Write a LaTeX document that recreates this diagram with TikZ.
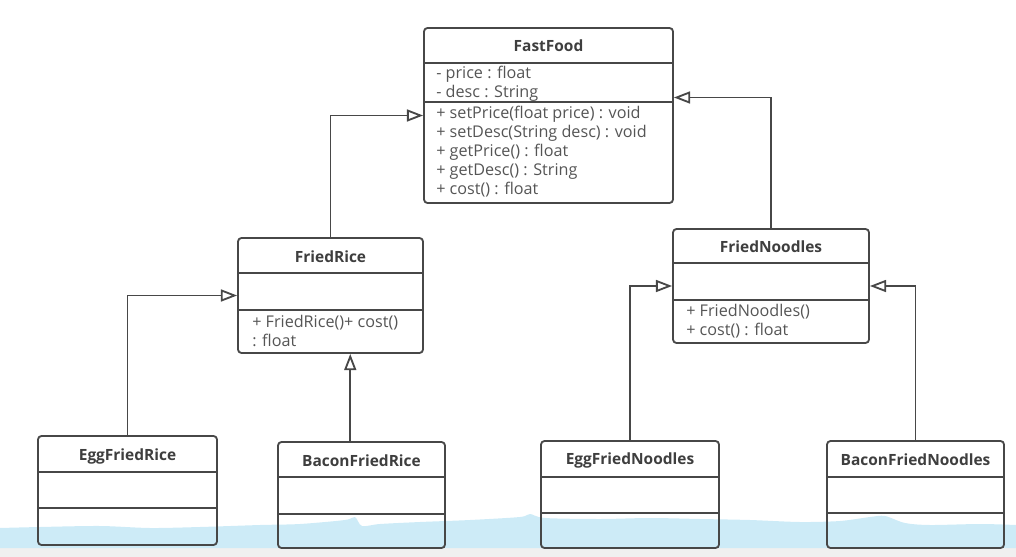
\documentclass[tikz,border=0pt]{standalone}
\usepackage{fontspec}
\setmainfont{Open Sans}
\usetikzlibrary{arrows.meta}
\usetikzlibrary{fit}
\definecolor{linegray}{HTML}{474747}
\definecolor{textgray}{HTML}{555555}
\definecolor{titlegray}{HTML}{3E3E3E}
\definecolor{waterblue}{HTML}{CDEBF7}
\definecolor{stripgray}{HTML}{F0F0F0}

\begin{document}
\begin{tikzpicture}[x=0.025cm,y=-0.025cm,>={Triangle[open,length=11.5pt,width=8.5pt]},
    class box/.style={draw=linegray,line width=1.3pt,rounded corners=2.5pt,inner sep=0pt},
    sep line/.style={draw=linegray,line width=1.3pt},
    class name/.style={font=\fontsize{11}{13}\selectfont\bfseries,text=titlegray,inner sep=0pt},
    members/.style={font=\fontsize{11.5}{13.5}\selectfont,text=textgray,align=left,anchor=west,inner sep=0pt},
    inherit/.style={->,draw=linegray,line width=1.3pt}]
  \useasboundingbox (0,0) rectangle (1016,557);
  % torn bottom edge of the screenshot
  \fill[stripgray] (0,548) rectangle (1016,557);
  \fill[waterblue] plot[smooth] coordinates {(0,528) (40,527) (100,526) (150,528) (200,527) (260,525)
      (300,524) (345,520) (355,517) (362,526) (380,524) (420,522) (470,520) (520,517) (530,514)
      (545,518) (600,519) (650,518) (700,519) (750,520) (800,522) (840,521) (870,517) (885,516)
      (905,523) (930,525) (980,524) (1016,525)} -- (1016,548) -- (0,548) -- cycle;

  % FastFood
  \node[class box,fit={(424,28) (673,203)}] (fastfood) {};
  \draw[sep line] (fastfood.west |- 0,63) -- (fastfood.east |- 0,63);
  \draw[sep line] (fastfood.west |- 0,102) -- (fastfood.east |- 0,102);
  \node[class name] (fastfoodname) at (fastfood.north |- 0,46) {FastFood};
  \node[members] (fastfoodattr) at (436,84) {- price : float\\- desc : String};
  \node[members] (fastfoodops) at (436,152) {+ setPrice(float price) : void\\+ setDesc(String desc) : void\\+ getPrice() : float\\+ getDesc() : String\\+ cost() : float};

  % FriedRice
  \node[class box,fit={(238,238) (423,353)}] (friedrice) {};
  \draw[sep line] (friedrice.west |- 0,273) -- (friedrice.east |- 0,273);
  \draw[sep line] (friedrice.west |- 0,310) -- (friedrice.east |- 0,310);
  \node[class name] (friedricename) at (friedrice.north |- 0,257) {FriedRice};
  \node[members] (friedriceops) at (252,331) {+ FriedRice()+ cost()\\: float};

  % FriedNoodles
  \node[class box,fit={(673,229) (869,343)}] (friednoodles) {};
  \draw[sep line] (friednoodles.west |- 0,263) -- (friednoodles.east |- 0,263);
  \draw[sep line] (friednoodles.west |- 0,300) -- (friednoodles.east |- 0,300);
  \node[class name] (friednoodlesname) at (friednoodles.north |- 0,247) {FriedNoodles};
  \node[members] (friednoodlesops) at (686,321) {+ FriedNoodles()\\+ cost() : float};

  % EggFriedRice
  \node[class box,fit={(38,436) (217,545)}] (eggrice) {};
  \draw[sep line] (eggrice.west |- 0,472) -- (eggrice.east |- 0,472);
  \draw[sep line] (eggrice.west |- 0,508) -- (eggrice.east |- 0,508);
  \node[class name] (eggricename) at (eggrice.north |- 0,456) {EggFriedRice};

  % BaconFriedRice
  \node[class box,fit={(278,442) (445,548)}] (baconrice) {};
  \draw[sep line] (baconrice.west |- 0,477) -- (baconrice.east |- 0,477);
  \draw[sep line] (baconrice.west |- 0,514) -- (baconrice.east |- 0,514);
  \node[class name] (baconricename) at (baconrice.north |- 0,461) {BaconFriedRice};

  % EggFriedNoodles
  \node[class box,fit={(541,441) (719,548)}] (eggnoodles) {};
  \draw[sep line] (eggnoodles.west |- 0,477) -- (eggnoodles.east |- 0,477);
  \draw[sep line] (eggnoodles.west |- 0,513) -- (eggnoodles.east |- 0,513);
  \node[class name] (eggnoodlesname) at (eggnoodles.north |- 0,460) {EggFriedNoodles};

  % BaconFriedNoodles
  \node[class box,fit={(827,441) (1004,548)}] (baconnoodles) {};
  \draw[sep line] (baconnoodles.west |- 0,477) -- (baconnoodles.east |- 0,477);
  \draw[sep line] (baconnoodles.west |- 0,513) -- (baconnoodles.east |- 0,513);
  \node[class name] (baconnoodlesname) at (baconnoodles.north |- 0,460) {BaconFriedNoodles};

  % generalisations
  \coordinate (bacontop) at ([xshift=-8pt]baconrice.north);
  \draw[inherit] (friedrice.north) |- (fastfood.west);
  \draw[inherit] (friednoodles.north) |- ([yshift=12.8pt]fastfood.east);
  \draw[inherit] (eggrice.north) |- (friedrice.west);
  \draw[inherit] (bacontop) -- (bacontop |- friedrice.south);
  \draw[inherit] (eggnoodles.north) |- (friednoodles.west);
  \draw[inherit] (baconnoodles.north) |- (friednoodles.east);
\end{tikzpicture}
\end{document}
